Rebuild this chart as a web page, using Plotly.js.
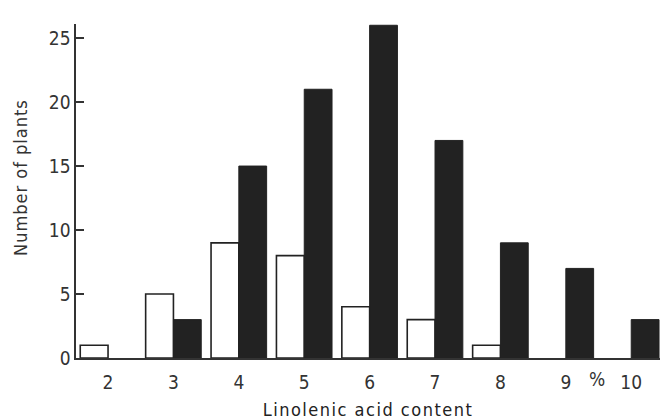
<!DOCTYPE html>
<html>
<head>
<meta charset="utf-8">
<script src="https://cdn.plot.ly/plotly-3.0.1.min.js"></script>
<style>
html,body{margin:0;padding:0;background:#fff;}
#chart{width:662px;height:420px;}
.xtitle{letter-spacing:1.5px;}
.annotation-text.ytitle-ann, .annotation .ytl{letter-spacing:1px;}
</style>
</head>
<body>
<div id="chart"></div>
<script>
const linolenic = [2, 3, 4, 5, 6, 7, 8, 9, 10];
const openBars = [1, 5, 9, 8, 4, 3, 1, null, null];
const filledBars = [null, 3, 15, 21, 26, 17, 9, 7, 3];
const xTickLabels = ["2", "3", "4", "5", "6", "7", "8", "9", "10"];
const yTicks = [0, 5, 10, 15, 20, 25];

const fontFam = "DejaVu Sans Condensed, DejaVu Sans, sans-serif";

const traces = [
  {type: "bar", x: linolenic, y: openBars, name: "open",
   marker: {color: "#ffffff", line: {color: "#222", width: 1.6}}},
  {type: "bar", x: linolenic, y: filledBars, name: "filled",
   marker: {color: "#222222", line: {color: "#222", width: 1}}}
];

const layout = {
  width: 662, height: 420,
  margin: {l: 76, r: 2, t: 24, b: 62},
  paper_bgcolor: "#fff", plot_bgcolor: "#fff",
  showlegend: false,
  barmode: "group", bargap: 0.15, bargroupgap: 0,
  font: {family: fontFam, size: 19, color: "#333"},
  xaxis: {
    range: [1.51, 10.44],
    tickvals: linolenic, ticktext: xTickLabels,
    showgrid: false, zeroline: false,
    showline: true, linecolor: "#333", linewidth: 1.6,
    ticks: "", ticklabelstandoff: 7,
    tickfont: {size: 19},
    title: {text: "Linolenic acid content", font: {size: 18, family: fontFam, color: "#222"}, standoff: 12}
  },
  yaxis: {
    range: [0, 26.1],
    tickvals: yTicks,
    showgrid: false, zeroline: false,
    showline: true, linecolor: "#333", linewidth: 1.6,
    ticks: "inside", ticklen: 8, tickwidth: 1.4, tickcolor: "#333",
    tickfont: {size: 19}
  },
  annotations: [
    {x: 9.48, y: 0, xref: "x", yref: "y", text: "%", showarrow: false,
     yanchor: "top", yshift: -8, font: {size: 19, family: fontFam, color: "#333"}},
    {x: 0, y: 0.539, xref: "paper", yref: "paper", xshift: -55,
     text: "<span class='ytl'>Number of plants</span>", textangle: -90, showarrow: false,
     xanchor: "center", yanchor: "middle",
     font: {size: 18, family: fontFam, color: "#333"}}
  ]
};

Plotly.newPlot("chart", traces, layout, {displayModeBar: false, staticPlot: true}).then(() => {
  document.querySelectorAll(".annotation-text").forEach(t => {
    if (t.textContent.indexOf("Number") === 0) t.style.letterSpacing = "1px";
  });
});
</script>
</body>
</html>
